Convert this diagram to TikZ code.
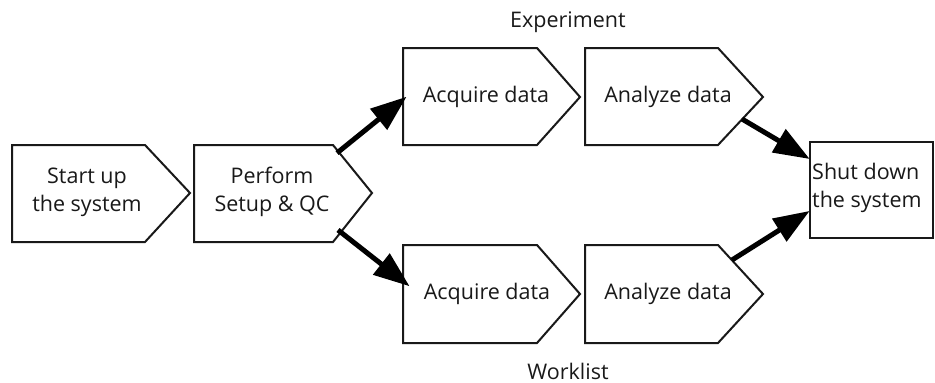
\documentclass[tikz,border=0pt]{standalone}
\usepackage{fontspec}
\setmainfont{Open Sans}
\usetikzlibrary{arrows.meta}
\tikzset{
  box/.style={draw=black!90, line width=2pt, fill=white, line join=miter},
  lbl/.style={font=\fontsize{21.5}{28}\selectfont, text=black!90, align=center, inner sep=0pt},
  flow/.style={line width=5pt, draw=black, -{Triangle[length=36pt,width=26pt]}, shorten >=-2pt}
}
\begin{document}
\begin{tikzpicture}[x=1pt,y=-1pt]
\useasboundingbox (0,0) rectangle (935,383);
% outlines
\draw[box] (12,145) -- (145,145) -- (190,193) -- (145,242) -- (12,242) -- cycle;
\draw[box] (194,145) -- (333,145) -- (372,193) -- (333,242) -- (194,242) -- cycle;
\draw[box] (403,48) -- (537,48) -- (580,97) -- (537,145) -- (403,145) -- cycle;
\draw[box] (585,48) -- (718,48) -- (763,97) -- (718,145) -- (585,145) -- cycle;
\draw[box] (403,245) -- (537,245) -- (580,294) -- (537,343) -- (403,343) -- cycle;
\draw[box] (585,245) -- (718,245) -- (763,294) -- (718,343) -- (585,343) -- cycle;
\draw[box] (810,142) rectangle (933,238);
% texts
\node[lbl] (start) at (87,192) {Start up\\the system};
\node[lbl] (setup) at (272,192) {Perform\\Setup \& QC};
\node[lbl] (acq1) at (486,97) {Acquire data};
\node[lbl] (ana1) at (668,97) {Analyze data};
\node[lbl] (acq2) at (487,294) {Acquire data};
\node[lbl] (ana2) at (668,294) {Analyze data};
\node[lbl, align=left, anchor=west] (shut) at (812,188) {Shut down\\the system};
\node[lbl] (exp) at (568,22) {Experiment};
\node[lbl] (wl) at (568,371) {Worklist};
% connector ends
\coordinate (s1) at (337,153);
\coordinate (e1) at (405,98);
\coordinate (s2) at (338,230);
\coordinate (e2) at (408,285);
\coordinate (s3) at (742,119);
\coordinate (e3) at (808,158);
\coordinate (s4) at (732,260);
\coordinate (e4) at (808,212);
\draw[flow] (s1) -- (e1);
\draw[flow] (s2) -- (e2);
\draw[flow] (s3) -- (e3);
\draw[flow] (s4) -- (e4);
\end{tikzpicture}
\end{document}
